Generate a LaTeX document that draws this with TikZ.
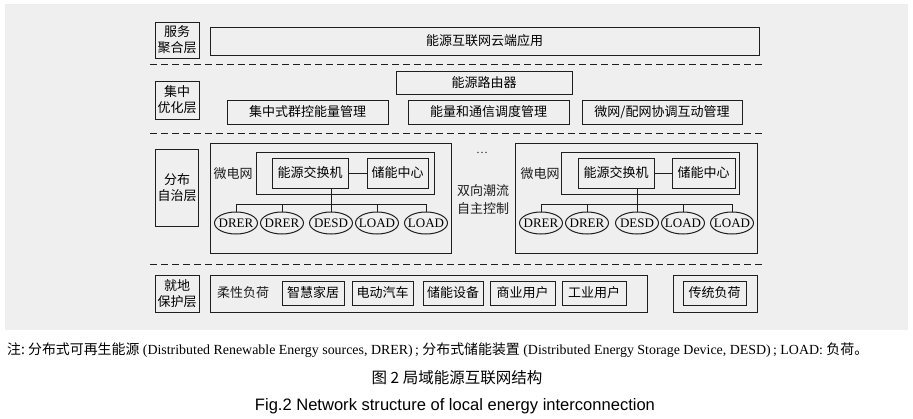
\documentclass[tikz,border=0pt]{standalone}
\usepackage{fontspec}
\usepackage{graphicx}
\setmainfont{Liberation Serif}
\newfontfamily\cjk{Noto Sans CJK SC}
\newfontfamily\sans{Liberation Sans}
\usetikzlibrary{shapes.geometric}
\definecolor{lc}{HTML}{1E1E1E}
\definecolor{bg}{HTML}{EFEFEF}
\newcommand{\ztext}[1]{\makebox[0pt]{#1}}
\begin{document}
\begin{tikzpicture}[x=1pt,y=-1pt,
  box/.style={draw=lc, line width=1pt, inner sep=0pt, align=center,
    font=\cjk\fontsize{13}{16}\selectfont},
  ell/.style={draw=lc, line width=1pt, ellipse, inner sep=0pt,
    minimum width=43pt, minimum height=22pt, font=\fontsize{13}{14}\selectfont},
  lbl/.style={inner sep=0pt, align=center, font=\cjk\fontsize{13}{18}\selectfont, text=lc},
  sep/.style={draw=lc, line width=1pt, dash pattern=on 7pt off 4pt},
  conn/.style={draw=lc, line width=1pt}]
\useasboundingbox (0,0) rectangle (913,418);
\fill[white] (0,0) rectangle (913,418);
\fill[bg] (5,4) rectangle (908,330);

% service layer
\node[box, minimum width=44pt, minimum height=36pt] (L1) at (177,40) {服务\\聚合层};
\node[box, minimum width=549pt, minimum height=28pt] (cloud) at (484.5,41) {能源互联网云端应用};
\coordinate (d1a) at (150,64); \coordinate (d1b) at (762,64);
\draw[sep] (d1a) -- (d1b);

% centralized layer
\node[box, minimum width=176pt, minimum height=23pt] (router) at (484,82.5) {能源路由器};
\node[box, minimum width=44pt, minimum height=38pt] (L2) at (177,100) {集中\\优化层};
\node[box, minimum width=161pt, minimum height=24pt] (m1) at (307.5,112) {集中式群控能量管理};
\node[box, minimum width=161pt, minimum height=24pt] (m2) at (488.5,112) {能量和通信调度管理};
\node[box, minimum width=160pt, minimum height=24pt] (m3) at (662,112) {微网/配网协调互动管理};
\coordinate (d2a) at (150,133); \coordinate (d2b) at (762,133);
\draw[sep] (d2a) -- (d2b);

% distributed layer
\node[box, minimum width=43pt, minimum height=77pt] (L3) at (177,187.5) {分布\\自治层};

% left microgrid
\node[box, minimum width=241pt, minimum height=110pt] (gA) at (330.5,198) {};
\node[box, minimum width=178pt, minimum height=42pt] (inA) at (345,173) {};
\node[box, minimum width=76pt, minimum height=30pt] (swA) at (310,173) {能源交换机};
\node[box, minimum width=61pt, minimum height=30pt] (stA) at (397.5,173) {储能中心};
\node[lbl] (mgA) at (233,174) {微电网};
\node[ell] (a1) at (236,223) {\ztext{DRER}};
\node[ell] (a2) at (282,223) {\ztext{DRER}};
\node[ell] (a3) at (331,223) {\ztext{DESD}};
\node[ell] (a4) at (377,223) {\ztext{LOAD}};
\node[ell] (a5) at (426,223) {\ztext{LOAD}};
\coordinate (busA) at (0,204);
\draw[conn] (swA.east) -- (stA.west);
\draw[conn] (a1.north) -- (a1.north |- busA) -- (a5.north |- busA) -- (a5.north);
\draw[conn] (a2.north) -- (a2.north |- busA);
\draw[conn] (a4.north) -- (a4.north |- busA);
\draw[conn] (a3.north) -- (swA.south -| a3.north);

% middle texts
\node[inner sep=0pt, font=\fontsize{12}{12}\selectfont, text=lc] (dots) at (482,153) {\ldots};
\node[lbl] (bi1) at (483,191) {双向潮流};
\node[lbl] (bi2) at (483,209) {自主控制};

% right microgrid
\node[box, minimum width=242pt, minimum height=110pt] (gB) at (636,198) {};
\node[box, minimum width=178pt, minimum height=42pt] (inB) at (650,173) {};
\node[box, minimum width=76pt, minimum height=30pt] (swB) at (616,173) {能源交换机};
\node[box, minimum width=63pt, minimum height=30pt] (stB) at (703.5,173) {储能中心};
\node[lbl] (mgB) at (540,174) {微电网};
\node[ell] (b1) at (541,223) {\ztext{DRER}};
\node[ell] (b2) at (587,223) {\ztext{DRER}};
\node[ell] (b3) at (637,223) {\ztext{DESD}};
\node[ell] (b4) at (683,223) {\ztext{LOAD}};
\node[ell] (b5) at (732,223) {\ztext{LOAD}};
\coordinate (busB) at (0,204);
\draw[conn] (swB.east) -- (stB.west);
\draw[conn] (b1.north) -- (b1.north |- busB) -- (b5.north |- busB) -- (b5.north);
\draw[conn] (b2.north) -- (b2.north |- busB);
\draw[conn] (b4.north) -- (b4.north |- busB);
\draw[conn] (b3.north) -- (swB.south -| b3.north);

\coordinate (d3a) at (150,264); \coordinate (d3b) at (762,264);
\draw[sep] (d3a) -- (d3b);

% local protection layer
\node[box, minimum width=44pt, minimum height=37pt] (L4) at (177,293.5) {就地\\保护层};
\node[box, minimum width=437pt, minimum height=37pt] (flex) at (428.5,293.5) {};
\node[lbl] (flexT) at (243,293) {柔性负荷};
\node[box, minimum width=62pt, minimum height=24pt] (f1) at (313,293) {智慧家居};
\node[box, minimum width=61pt, minimum height=24pt] (f2) at (382.5,293) {电动汽车};
\node[box, minimum width=60pt, minimum height=24pt] (f3) at (453,293) {储能设备};
\node[box, minimum width=65pt, minimum height=24pt] (f4) at (522.5,293) {商业用户};
\node[box, minimum width=64pt, minimum height=24pt] (f5) at (594,293) {工业用户};
\node[box, minimum width=84pt, minimum height=37pt] (trad) at (715,293.5) {};
\node[box, minimum width=63pt, minimum height=24pt] (tradT) at (714.5,293) {传统负荷};

% captions
\node[anchor=west, inner sep=0pt, font=\fontsize{13}{14}\selectfont] (note) at (7,350)
  {\resizebox{861pt}{!}{{\cjk 注:\ 分布式可再生能源} (Distributed Renewable Energy sources, DRER)\,;\ {\cjk 分布式储能装置} (Distributed Energy Storage Device, DESD)\,;\ LOAD:\ {\cjk 负荷。}}};
\node[inner sep=0pt, font=\cjk\fontsize{15.5}{16}\selectfont] (cap) at (457,378) {图 2 局域能源互联网结构};
\node[inner sep=0pt, font=\sans\fontsize{17}{18}\selectfont] (capE) at (455,406)
  {\resizebox{400pt}{!}{Fig.2 Network structure of local energy interconnection}};
\end{tikzpicture}
\end{document}
